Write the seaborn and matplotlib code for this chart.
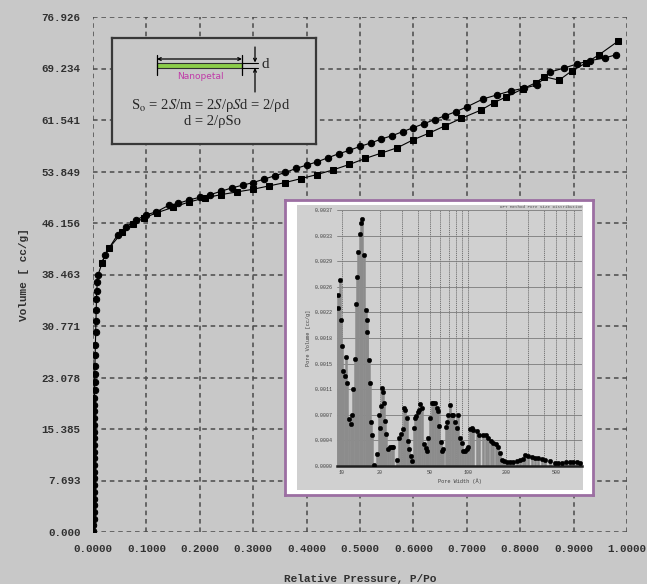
import numpy as np
import matplotlib.pyplot as plt
import seaborn as sns
from matplotlib.patches import Rectangle
from matplotlib.ticker import LogLocator, NullFormatter

# --- isotherm data (P/Po vs volume, cc/g) ---
# circles: micropore rise + upper branch
circ_p = [0.0008, 0.0009, 0.0010, 0.0011, 0.0012, 0.0013, 0.0014, 0.0015, 0.0016, 0.0017,
          0.0018, 0.0019, 0.0020, 0.0021, 0.0022, 0.0023, 0.0024, 0.0025, 0.0026, 0.0027,
          0.0028, 0.0030, 0.0032, 0.0034, 0.0036, 0.0040, 0.0045, 0.0050, 0.0055, 0.0060,
          0.0065, 0.0070, 0.0080, 0.0095, 0.022, 0.046, 0.062, 0.081, 0.100, 0.118,
          0.142, 0.160, 0.180, 0.200, 0.220, 0.240, 0.260, 0.280, 0.300, 0.320,
          0.340, 0.360, 0.380, 0.400, 0.420, 0.440, 0.460, 0.480, 0.500, 0.520,
          0.540, 0.560, 0.580, 0.600, 0.620, 0.640, 0.660, 0.680, 0.700, 0.731,
          0.757, 0.783, 0.808, 0.832, 0.856, 0.882, 0.906, 0.930, 0.958, 0.980]
circ_v = [0.2, 1.1, 2.0, 3.0, 4.0, 5.0, 6.0, 7.0, 8.0, 9.0,
          10.0, 11.0, 12.0, 13.0, 14.0, 15.0, 16.0, 17.0, 18.0, 19.0,
          20.0, 21.2, 22.4, 23.6, 24.8, 26.4, 28.0, 29.8, 31.5, 33.2,
          34.8, 36.0, 37.3, 38.4, 41.4, 44.4, 45.6, 46.6, 47.4, 47.8,
          48.8, 49.1, 49.6, 50.0, 50.4, 50.9, 51.4, 51.8, 52.2, 52.7,
          53.2, 53.7, 54.3, 54.8, 55.3, 55.9, 56.5, 57.0, 57.6, 58.1,
          58.7, 59.2, 59.8, 60.4, 61.0, 61.6, 62.2, 62.8, 63.5, 64.7,
          65.3, 65.9, 66.3, 66.8, 68.7, 69.3, 69.9, 70.4, 70.8, 71.3]

# squares: lower branch
sq_p = [0.016, 0.030, 0.055, 0.075, 0.095, 0.120, 0.150, 0.180, 0.210, 0.240,
        0.270, 0.300, 0.330, 0.360, 0.390, 0.420, 0.450, 0.480, 0.510, 0.540,
        0.570, 0.600, 0.630, 0.660, 0.690, 0.726, 0.750, 0.774, 0.805, 0.829,
        0.845, 0.873, 0.897, 0.924, 0.948, 0.983]
sq_v = [40.2, 42.4, 44.8, 46.0, 46.9, 47.7, 48.5, 49.3, 49.9, 50.4,
        50.8, 51.2, 51.7, 52.2, 52.8, 53.4, 54.1, 54.9, 55.8, 56.6,
        57.4, 58.6, 59.6, 60.7, 61.8, 63.0, 64.1, 65.0, 66.2, 67.1,
        68.0, 67.5, 68.9, 70.1, 71.3, 73.3]

y_labels = ['0.000', '7.693', '15.385', '23.078', '30.771', '38.463',
            '46.156', '53.849', '61.541', '69.234', '76.926']
x_labels = ['0.0000', '0.1000', '0.2000', '0.3000', '0.4000', '0.5000',
            '0.6000', '0.7000', '0.8000', '0.9000', '1.0000']

# --- inset: pore size distribution (width in A, pore volume cc/g) ---
pore_w = [9.35, 9.35, 9.59, 9.77, 10.06, 10.24, 10.56, 10.76, 11.02, 11.36,
          11.73, 12.07, 12.29, 12.69, 12.92, 13.23, 13.47, 13.82, 14.07, 14.49,
          14.95, 15.42, 15.70, 15.88, 16.38, 16.68, 17.08, 17.40, 18.05, 18.86,
          19.77, 20.03, 20.39, 20.66, 21.04, 21.67, 21.94, 22.35, 23.31, 24.04,
          24.80, 25.53, 27.17, 28.35, 29.24, 30.32, 31.05, 31.62, 32.63, 33.60,
          34.21, 35.29, 35.94, 37.28, 37.97, 38.67, 39.89, 41.07, 41.59, 42.91,
          44.76, 46.17, 47.01, 48.41, 49.94, 51.52, 53.05, 54.72, 56.45, 57.49,
          59.20, 60.73, 62.52, 63.68, 66.53, 67.76, 69.78, 71.97, 74.24, 76.44,
          78.86, 81.35, 83.76, 86.41, 89.13, 91.78, 94.66, 97.65, 99.45, 103.7,
          107.0, 110.2, 117.2, 122.9, 132.3, 139.0, 144.9, 152.2, 158.8, 166.8,
          174.0, 179.5, 185.2, 191.3, 202.8, 215.4, 228.8, 244.8, 258.7, 274.8,
          283.5, 301.0, 320.3, 340.2, 359.4, 384.6, 408.5, 447.6, 490.3, 518.0,
          554.2, 599.5, 644.9, 681.3, 729.3, 774.4]
pore_v = [0.00246, 0.00227, 0.00267, 0.00210, 0.00172, 0.00136, 0.00130, 0.00156, 0.00119, 0.00067,
          0.00060, 0.00074, 0.00110, 0.00154, 0.00233, 0.00271, 0.00307, 0.00334, 0.00349, 0.00355,
          0.00304, 0.00224, 0.00210, 0.00193, 0.00152, 0.00119, 0.00063, 0.00045, 0.00001, 0.00017,
          0.00074, 0.00055, 0.00086, 0.00112, 0.00107, 0.00090, 0.00064, 0.00046, 0.00025, 0.00027,
          0.00028, 0.00028, 0.00009, 0.00040, 0.00046, 0.00053, 0.00083, 0.00080, 0.00069, 0.00036,
          0.00024, 0.00014, 0.00007, 0.00055, 0.00069, 0.00072, 0.00078, 0.00081, 0.00089, 0.00084,
          0.00031, 0.00026, 0.00022, 0.00040, 0.00069, 0.00090, 0.00091, 0.00090, 0.00083, 0.00079,
          0.00057, 0.00035, 0.00022, 0.00024, 0.00056, 0.00063, 0.00073, 0.00087, 0.00073, 0.00073,
          0.00063, 0.00055, 0.00073, 0.00040, 0.00033, 0.00022, 0.00022, 0.00024, 0.00028, 0.00053,
          0.00055, 0.00052, 0.00050, 0.00045, 0.00045, 0.00044, 0.00040, 0.00036, 0.00033, 0.00031,
          0.00028, 0.00018, 0.00009, 0.00007, 0.00006, 0.00006, 0.00006, 0.00007, 0.00008, 0.00010,
          0.00016, 0.00015, 0.00013, 0.00012, 0.00011, 0.00010, 0.00008, 0.00007, 0.00004, 0.00004,
          0.00005, 0.00006, 0.00006, 0.00006, 0.00006, 0.00005]
inset_y_labels = ['0.0000', '0.0004', '0.0007', '0.0011', '0.0015', '0.0018',
                  '0.0022', '0.0026', '0.0029', '0.0033', '0.0037']
inset_x_ticks = [10, 20, 50, 100, 200, 500]

sns.set_theme(style="white")
plt.rcParams['font.family'] = ['Liberation Mono', 'DejaVu Sans']
plt.rcParams['mathtext.fontset'] = 'stix'

BG = '#c8c8c8'
W, H = 647, 584

def box(x0, y0, x1, y1):
    # pixel box (top-left origin) -> figure fraction rect
    return [x0 / W, 1 - y1 / H, (x1 - x0) / W, (y1 - y0) / H]

fig = plt.figure(figsize=(6.47, 5.84), dpi=100, facecolor=BG)

# --- main isotherm ---
ax = fig.add_axes(box(93, 17, 627, 532))
ax.set_facecolor(BG)
sns.lineplot(x=circ_p, y=circ_v, sort=False, estimator=None, color='black', lw=0.8,
             marker='o', markersize=4.6, markeredgecolor='black', ax=ax)
sns.lineplot(x=sq_p, y=sq_v, sort=False, estimator=None, color='black', lw=0.8,
             marker='s', markersize=4.4, markeredgecolor='black', ax=ax)
ax.set_xlim(0, 1)
ax.set_ylim(0, 76.926)
ax.set_xticks(np.linspace(0, 1, 11))
ax.set_xticklabels(x_labels, fontweight='bold', fontsize=7.8, color='#303030')
ax.set_yticks(np.linspace(0, 76.926, 11))
ax.set_yticklabels(y_labels, fontweight='bold', fontsize=7.8, color='#303030')
ax.tick_params(length=0, pad=9)
ax.grid(True, color='#4a4a4a', ls=(0, (3, 2.5)), lw=1.1)
ax.set_axisbelow(True)
for s in ax.spines.values():
    s.set_visible(False)
ax.set_xlabel('Relative Pressure, P/Po', fontweight='bold', fontsize=8, color='#303030', labelpad=14)
ax.set_ylabel('Volume [ cc/g]', fontweight='bold', fontsize=8, color='#303030', labelpad=9)

# --- schematic box ---
axb = fig.add_axes(box(112, 38, 316, 144))
axb.set_facecolor(BG)
axb.set_xlim(112, 316)
axb.set_ylim(144, 38)
axb.set_xticks([])
axb.set_yticks([])
for s in axb.spines.values():
    s.set_color('#383838')
    s.set_linewidth(1.6)
axb.add_patch(Rectangle((157, 62.5), 85, 5.5, facecolor='#8ccc4a', edgecolor='#303030', lw=0.8))
axb.annotate('', xy=(157, 59), xytext=(242, 59),
             arrowprops=dict(arrowstyle='<->', color='black', lw=0.9, shrinkA=0, shrinkB=0,
                             mutation_scale=5))
axb.plot([157, 157], [55, 75], color='black', lw=0.9)
axb.plot([242, 242], [55, 75], color='black', lw=0.9)
axb.plot([242, 258], [62.5, 62.5], color='black', lw=0.8)
axb.plot([242, 258], [68, 68], color='black', lw=0.8)
axb.annotate('', xy=(255, 62.5), xytext=(255, 47),
             arrowprops=dict(arrowstyle='->', color='black', lw=0.9, shrinkA=0, shrinkB=0,
                             mutation_scale=5))
axb.annotate('', xy=(255, 68), xytext=(255, 92),
             arrowprops=dict(arrowstyle='->', color='black', lw=0.9, shrinkA=0, shrinkB=0,
                             mutation_scale=5))
axb.text(261, 65, 'd', fontsize=11, family='Liberation Serif', ha='left', va='center')
axb.text(200, 76.5, 'Nanopetal', fontsize=6.5, family='DejaVu Sans', color='#c03aa8',
         ha='center', va='center')
axb.text(211, 106, 'S$_\\mathrm{o}$ = 2$S$/m = 2$S$/\u03c1$S$d = 2/\u03c1d', fontsize=10.5,
         family='Liberation Serif', ha='center', va='center')
axb.text(212, 122, 'd = 2/\u03c1So', fontsize=10.5, family='Liberation Serif',
         ha='center', va='center')

# --- inset picture frame ---
axf = fig.add_axes(box(285, 200, 593, 495))
axf.set_facecolor('white')
axf.set_xticks([])
axf.set_yticks([])
for s in axf.spines.values():
    s.set_color('#9c6fa2')
    s.set_linewidth(2)

axp = fig.add_axes(box(297, 205, 583, 490))
axp.set_facecolor('#d0d0d0')
axp.set_xticks([])
axp.set_yticks([])
for s in axp.spines.values():
    s.set_visible(False)

axi = fig.add_axes(box(337, 210, 582, 466))
axi.set_facecolor('#d0d0d0')
axi.set_xscale('log')
axi.vlines(pore_w, 0, pore_v, color='#8c8c8c', lw=1.8, zorder=2)
sns.scatterplot(x=pore_w, y=pore_v, color='black', s=11, edgecolor=None, zorder=3, ax=axi)
axi.set_xlim(9.12, 803)
axi.set_ylim(0, 0.00368)
axi.set_yticks(np.linspace(0, 0.00368, 11))
axi.set_yticklabels(inset_y_labels, fontsize=3.6, color='#404040')
axi.set_xticks(inset_x_ticks)
axi.set_xticklabels([str(t) for t in inset_x_ticks], fontsize=3.6, color='#404040')
axi.xaxis.set_minor_locator(LogLocator(base=10, subs=np.arange(2, 10)))
axi.xaxis.set_minor_formatter(NullFormatter())
axi.tick_params(which='both', length=0, pad=3)
axi.grid(True, axis='y', which='major', color='#7a7a7a', lw=0.6)
axi.grid(True, axis='x', which='both', color='#6a6a6a', lw=0.6, ls=(0, (1.5, 1)))
axi.set_axisbelow(True)
for name, s in axi.spines.items():
    s.set_visible(name == 'bottom')
axi.spines['bottom'].set_color('#202020')
axi.spines['bottom'].set_linewidth(1.8)
axi.set_xlabel('Pore Width (\u00c5)', fontsize=3.8, color='#404040', labelpad=2)
axi.set_ylabel('Pore Volume [cc/g]', fontsize=3.8, color='#404040', labelpad=3)
axi.set_title('DFT Method Pore Size Distribution', fontsize=3, color='#505050',
              loc='right', pad=1.5)

fig.savefig('out.png', dpi=100, facecolor=BG)
